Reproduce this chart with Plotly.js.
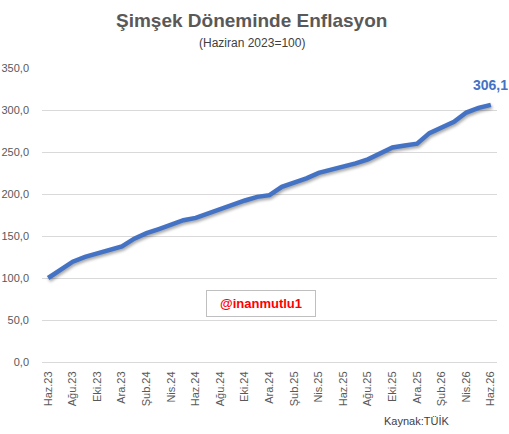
<!DOCTYPE html>
<html>
<head>
<meta charset="utf-8">
<script src="https://cdn.plot.ly/plotly-3.0.1.min.js"></script>
<style>
  html, body { margin: 0; padding: 0; background: #fff; }
  #chart { width: 509px; height: 434px; }
  .scatterlayer .js-line { filter: drop-shadow(1px 2px 1.5px rgba(0,0,0,0.35)); }
</style>
</head>
<body>
<div id="chart"></div>
<script>
const months = [
  "Haz.23","Tem.23","Ağu.23","Eyl.23","Eki.23","Kas.23","Ara.23",
  "Oca.24","Şub.24","Mar.24","Nis.24","May.24","Haz.24","Tem.24","Ağu.24","Eyl.24","Eki.24","Kas.24","Ara.24",
  "Oca.25","Şub.25","Mar.25","Nis.25","May.25","Haz.25","Tem.25","Ağu.25","Eyl.25","Eki.25","Kas.25","Ara.25",
  "Oca.26","Şub.26","Mar.26","Nis.26","May.26","Haz.26"
];
const indexValues = [
  100.0, 109.5, 119.4, 125.1, 129.4, 133.7, 137.6,
  146.8, 153.4, 158.3, 163.3, 168.8, 171.6, 177.1, 181.5, 186.9, 192.3, 196.6, 198.6,
  208.6, 213.3, 218.6, 225.1, 228.6, 231.7, 236.5, 241.3, 249.1, 255.4, 257.7, 259.9,
  272.5, 280.0, 286.0, 297.0, 302.5, 306.1
];
const tickLabels = months.filter((m, i) => i % 2 === 0);
const yTicks = [0, 50, 100, 150, 200, 250, 300, 350];

const font = "Liberation Sans, Arial, sans-serif";
const lastIdx = indexValues.length - 1;

const trace = {
  x: months,
  y: indexValues,
  type: "scatter",
  mode: "lines",
  line: { color: "#4472C4", width: 4.5, shape: "linear" },
  hoverinfo: "x+y"
};

const layout = {
  width: 509,
  height: 434,
  margin: { l: 42, r: 12, t: 68, b: 72 },
  paper_bgcolor: "#ffffff",
  plot_bgcolor: "#ffffff",
  showlegend: false,
  separators: ",.",
  font: { family: font, color: "#595959", size: 11 },
  xaxis: {
    type: "category",
    tickvals: tickLabels,
    ticktext: tickLabels,
    tickangle: -90,
    tickfont: { family: font, size: 11, color: "#595959" },
    showgrid: false,
    showline: true,
    linecolor: "#d9d9d9",
    linewidth: 1,
    ticks: "",
    ticklabelstandoff: 4,
    range: [-0.5, months.length - 0.5],
    fixedrange: true
  },
  yaxis: {
    range: [0, 350],
    tickvals: yTicks,
    tickformat: ".1f",
    tickfont: { family: font, size: 11, color: "#595959" },
    showgrid: true,
    gridcolor: "#d9d9d9",
    gridwidth: 1,
    zeroline: false,
    showline: false,
    ticks: "",
    ticklabelstandoff: 12,
    fixedrange: true
  },
  annotations: [
    {
      xref: "paper", yref: "paper", x: 0.4615, y: 1, yshift: 48,
      xanchor: "center", yanchor: "middle",
      text: "<b>Şimşek Döneminde Enflasyon</b>",
      showarrow: false,
      font: { family: font, size: 19, color: "#595959" }
    },
    {
      xref: "paper", yref: "paper", x: 0.4615, y: 1, yshift: 25,
      xanchor: "center", yanchor: "middle",
      text: "(Haziran 2023=100)",
      showarrow: false,
      font: { family: font, size: 12, color: "#404040" }
    },
    {
      xref: "x", yref: "y", x: months[lastIdx], y: indexValues[lastIdx],
      yshift: 20, xanchor: "center", yanchor: "middle",
      text: "<b>" + indexValues[lastIdx].toFixed(1).replace(".", ",") + "</b>",
      showarrow: false,
      font: { family: font, size: 14, color: "#4472C4" }
    },
    {
      xref: "paper", yref: "paper", x: 0.481, y: 0.20,
      xanchor: "center", yanchor: "middle",
      text: "<b>@inanmutlu1</b>",
      showarrow: false,
      bordercolor: "#bfbfbf", borderwidth: 1, borderpad: 5,
      bgcolor: "#ffffff",
      width: 98,
      font: { family: font, size: 13, color: "#ff0000" }
    },
    {
      xref: "paper", yref: "paper", x: 0.823, y: 0, yshift: -59,
      xanchor: "center", yanchor: "middle",
      text: "Kaynak:TÜİK",
      showarrow: false,
      font: { family: font, size: 11, color: "#404040" }
    }
  ]
};

Plotly.newPlot("chart", [trace], layout, { displayModeBar: false, staticPlot: true });
</script>
</body>
</html>
